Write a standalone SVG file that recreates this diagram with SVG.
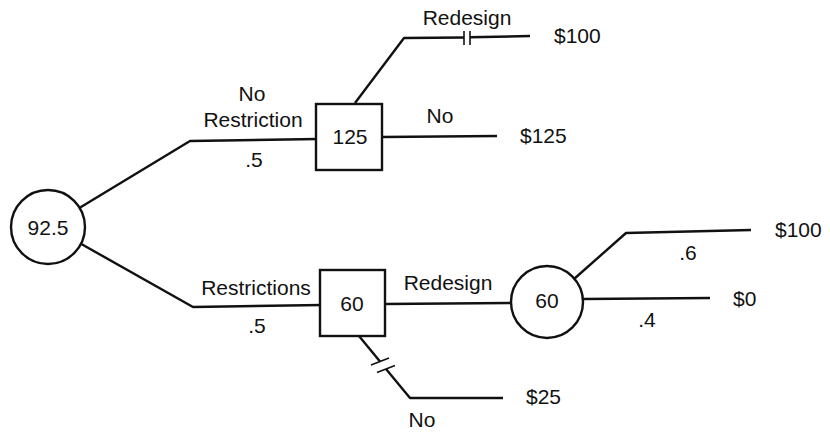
<svg xmlns="http://www.w3.org/2000/svg" width="830" height="432" viewBox="0 0 830 432">
<style>
.ln{fill:none;stroke:#111;stroke-width:2.4;stroke-linejoin:round}
.nd{fill:#fff;stroke:#111;stroke-width:2.4}
.mk{fill:none;stroke:#111;stroke-width:1.6}
text{font-family:"Liberation Sans",Arial,Helvetica,sans-serif;font-size:21px;fill:#111}
.c{text-anchor:middle}
</style>
<rect width="830" height="432" fill="#fff"/>
<g id="connectors">
<polyline class="ln" points="76,210 190,141 318,139"/>
<polyline class="ln" points="76,241 193,307 322,305"/>
<polyline class="ln" points="355,103 404,38 464,37.5"/>
<line class="ln" x1="470" y1="37.3" x2="530" y2="36"/>
<line class="mk" x1="464" y1="31" x2="464" y2="45"/>
<line class="mk" x1="470" y1="31" x2="470" y2="45"/>
<line class="ln" x1="382" y1="137" x2="497" y2="136"/>
<line class="ln" x1="385" y1="304" x2="511" y2="303"/>
<line class="ln" x1="359" y1="336" x2="380" y2="361.5"/>
<polyline class="ln" points="386,369 410,398 503,398"/>
<line class="mk" x1="371" y1="365" x2="389" y2="358"/>
<line class="mk" x1="377" y1="372.5" x2="395" y2="365.5"/>
<polyline class="ln" points="574,279 626,233 751,230"/>
<line class="ln" x1="583" y1="299" x2="710" y2="298"/>
</g>
<g id="root">
<circle class="nd" cx="48" cy="227" r="37"/>
<text class="c" x="48" y="235">92.5</text>
</g>
<g id="decision125">
<rect class="nd" x="316" y="104" width="66" height="66"/>
<text class="c" x="350" y="144">125</text>
</g>
<g id="decision60">
<rect class="nd" x="320" y="270" width="65" height="66"/>
<text class="c" x="352" y="311">60</text>
</g>
<g id="chance60">
<circle class="nd" cx="547" cy="302" r="36"/>
<text class="c" x="547" y="308">60</text>
</g>
<g id="labels">
<text class="c" x="252" y="101">No</text>
<text class="c" x="253" y="127">Restriction</text>
<text class="c" x="254" y="167">.5</text>
<text class="c" x="467" y="25">Redesign</text>
<text x="554" y="43">$100</text>
<text class="c" x="440" y="123">No</text>
<text x="520" y="143">$125</text>
<text class="c" x="256" y="295">Restrictions</text>
<text class="c" x="257" y="333">.5</text>
<text class="c" x="448" y="290">Redesign</text>
<text class="c" x="688" y="260">.6</text>
<text x="775" y="237">$100</text>
<text class="c" x="647" y="327">.4</text>
<text x="733" y="306">$0</text>
<text x="526" y="404">$25</text>
<text class="c" x="422" y="427">No</text>
</g>
</svg>
